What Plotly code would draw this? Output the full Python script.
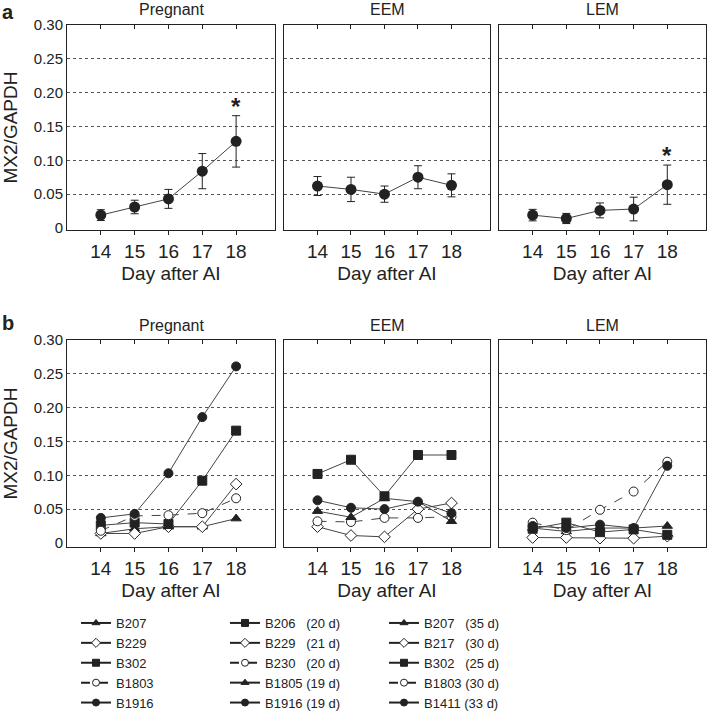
import plotly.graph_objects as go

# ---------------- data ----------------
days = [14, 15, 16, 17, 18]
panel_titles = ["Pregnant", "EEM", "LEM"]
y_tickvals = [0, 0.05, 0.10, 0.15, 0.20, 0.25, 0.30]
y_ticktext = ["0", "0.05", "0.10", "0.15", "0.20", "0.25", "0.30"]

# panel a: means and error (SEM)
a_preg_mean = [0.019, 0.031, 0.043, 0.084, 0.128]
a_preg_err = [0.008, 0.010, 0.014, 0.026, 0.038]
a_eem_mean = [0.062, 0.057, 0.050, 0.075, 0.063]
a_eem_err = [0.014, 0.018, 0.012, 0.017, 0.017]
a_lem_mean = [0.019, 0.014, 0.026, 0.028, 0.064]
a_lem_err = [0.0085, 0.0075, 0.011, 0.0175, 0.029]
a_star = [False, False, False, False, True]

# panel b: individual animals
preg_names = ["B207", "B229", "B302", "B1803", "B1916"]
preg_vals = [
    [0.014, 0.021, 0.024, 0.024, 0.036],
    [0.014, 0.014, 0.024, 0.024, 0.087],
    [0.026, 0.030, 0.028, 0.092, 0.166],
    [0.018, 0.040, 0.041, 0.044, 0.066],
    [0.037, 0.043, 0.103, 0.186, 0.261],
]
eem_names = ["B206", "B229", "B230", "B1805", "B1916"]
eem_days = ["(20 d)", "(21 d)", "(20 d)", "(19 d)", "(19 d)"]
eem_vals = [
    [0.102, 0.123, 0.069, 0.130, 0.130],
    [0.024, 0.011, 0.009, 0.050, 0.059],
    [0.032, 0.031, 0.037, 0.037, 0.039],
    [0.047, 0.038, 0.066, 0.061, 0.032],
    [0.063, 0.052, 0.050, 0.061, 0.044],
]
lem_names = ["B207", "B217", "B302", "B1803", "B1411"]
lem_days = ["(35 d)", "(30 d)", "(25 d)", "(30 d)", "(33 d)"]
lem_vals = [
    [0.022, 0.017, 0.022, 0.022, 0.025],
    [0.008, 0.008, 0.007, 0.007, 0.010],
    [0.021, 0.030, 0.016, 0.020, 0.012],
    [0.030, 0.019, 0.049, 0.076, 0.120],
    [0.025, 0.022, 0.027, 0.022, 0.114],
]

# ---------------- styles ----------------
FONT = "Liberation Sans, Arial, sans-serif"
INK = "#222222"
LINE = "#444444"
styles = [  # symbol, fill, dash
    dict(symbol="triangle-up", fill=INK, dash="solid"),
    dict(symbol="diamond", fill="white", dash="solid"),
    dict(symbol="square", fill=INK, dash="solid"),
    dict(symbol="circle", fill="white", dash="dash"),
    dict(symbol="circle", fill=INK, dash="solid"),
]
eem_order_styles = [2, 1, 3, 0, 4]
lem_order_styles = [0, 1, 2, 3, 4]
preg_order_styles = [0, 1, 2, 3, 4]

W, H = 709, 718
col_px = [(67, 275), (284, 490), (499, 706)]
row_px = [(25, 230), (340, 547)]
xdom = [[a / W, b / W] for a, b in col_px]
ydom = [[1 - b / H, 1 - a / H] for a, b in row_px]

fig = go.Figure()
layout = dict(
    width=W, height=H, margin=dict(l=0, r=0, t=0, b=0, autoexpand=False),
    paper_bgcolor="white", plot_bgcolor="white",
    font=dict(family=FONT, color=INK), showlegend=True,
)

yranges = [[-0.003, 0.30], [-0.006, 0.30]]
ax = 0
axis_ids = {}
for r in range(2):
    for c in range(3):
        ax += 1
        axis_ids[(r, c)] = ax
        xs = "" if ax == 1 else str(ax)
        layout["xaxis" + xs] = dict(
            domain=xdom[c], anchor="y" + xs, range=[13.0, 19.15], automargin=False,
            tickvals=days, ticktext=[str(d) for d in days],
            ticks="outside", ticklen=4, tickcolor=INK,
            showline=True, linecolor=INK, linewidth=1, mirror=True,
            showgrid=False, zeroline=False,
            tickfont=dict(size=19, family=FONT, color=INK),
            title=dict(text="Day after AI", font=dict(size=19, family=FONT, color=INK), standoff=5),
        )
        layout["yaxis" + xs] = dict(
            domain=ydom[r], anchor="x" + xs, range=yranges[r], automargin=False,
            tickvals=y_tickvals, ticktext=y_ticktext, showticklabels=(c == 0),
            ticks="", showline=True, linecolor=INK, linewidth=1, mirror=True,
            showgrid=False, zeroline=False,
            minor=dict(tickvals=[0.05, 0.10, 0.15, 0.20, 0.25], showgrid=True,
                       gridcolor="#555555", griddash="dot", gridwidth=1, ticks=""),
            tickfont=dict(size=15, family=FONT, color=INK),
        )
        if c == 0:
            layout["yaxis" + xs]["title"] = dict(text="MX2/GAPDH", font=dict(size=19, family=FONT, color=INK), standoff=11)

# top inside ticks via overlay axes
for r in range(2):
    for c in range(3):
        base = axis_ids[(r, c)]
        bs = "" if base == 1 else str(base)
        k = 6 + base
        layout["xaxis" + str(k)] = dict(
            overlaying="x" + bs, anchor="y" + bs, side="top", range=[13.0, 19.15], automargin=False,
            tickvals=days, ticks="inside", ticklen=4, tickcolor=INK,
            showticklabels=False, showgrid=False, zeroline=False, showline=False,
        )
        fig.add_trace(go.Scatter(x=[None], y=[None], xaxis="x" + str(k), yaxis="y" + bs,
                                 showlegend=False, hoverinfo="skip"))

def axref(r, c):
    n = axis_ids[(r, c)]
    s = "" if n == 1 else str(n)
    return "x" + s, "y" + s

# ---------------- panel a ----------------
a_means = [a_preg_mean, a_eem_mean, a_lem_mean]
a_errs = [a_preg_err, a_eem_err, a_lem_err]
a_stars = [True, False, True]
annotations = []
for c in range(3):
    xa, ya = axref(0, c)
    fig.add_trace(go.Scatter(
        x=days, y=a_means[c], xaxis=xa, yaxis=ya, mode="lines+markers",
        line=dict(color=LINE, width=1),
        marker=dict(symbol="circle", size=11, color=INK),
        error_y=dict(type="data", array=a_errs[c], visible=True, color=INK, thickness=1, width=4),
        showlegend=False,
    ))
    if a_stars[c]:
        for i, d in enumerate(days):
            if a_star[i]:
                annotations.append(dict(
                    x=d, y=a_means[c][i] + a_errs[c][i], xref=xa, yref=ya,
                    text="<b>*</b>", showarrow=False, yanchor="bottom", yshift=-6,
                    font=dict(size=24, family=FONT, color=INK)))

# ---------------- panel b ----------------
b_sets = [
    (preg_names, None, preg_vals, preg_order_styles, "legend"),
    (eem_names, eem_days, eem_vals, eem_order_styles, "legend2"),
    (lem_names, lem_days, lem_vals, lem_order_styles, "legend3"),
]
for c, (names, dlabels, vals, order, leg) in enumerate(b_sets):
    xa, ya = axref(1, c)
    for i, name in enumerate(names):
        st = styles[order[i]]
        fig.add_trace(go.Scatter(
            x=days, y=vals[i], xaxis=xa, yaxis=ya, mode="lines+markers",
            line=dict(color=LINE, width=1, dash=st["dash"]),
            marker=dict(symbol=st["symbol"], size=9, color=st["fill"],
                        line=dict(color=INK, width=1)),
            showlegend=False, name=name,
        ))
    for i, name in enumerate(names):
        st = styles[order[i]]
        if dlabels is None:
            label = name
        else:
            pad = "\u00a0" * (3 if len(name) == 4 else 1)
            label = name + pad + dlabels[i]
        fig.add_trace(go.Scatter(
            x=[None], y=[None], xaxis=xa, yaxis=ya, mode="lines+markers",
            line=dict(color=INK, width=2, dash=st["dash"]),
            marker=dict(symbol=st["symbol"], size=7, color=st["fill"],
                        line=dict(color=INK, width=1)),
            name=label, legend=leg, showlegend=True,
        ))

leg_common = dict(yanchor="top", xanchor="left", y=1 - 608 / H,
                  font=dict(size=13, family=FONT, color=INK),
                  bgcolor="rgba(0,0,0,0)", borderwidth=0, tracegroupgap=0,
                  itemclick=False, itemdoubleclick=False)
layout["legend"] = dict(leg_common, x=76 / W)
layout["legend2"] = dict(leg_common, x=225 / W)
layout["legend3"] = dict(leg_common, x=384 / W)

# titles
title_y_px = [9, 325]
for r in range(2):
    for c in range(3):
        annotations.append(dict(
            x=(xdom[c][0] + xdom[c][1]) / 2, y=1 - title_y_px[r] / H, xref="paper", yref="paper",
            text=panel_titles[c], showarrow=False, xanchor="center", yanchor="middle",
            font=dict(size=16, family=FONT, color=INK)))
for lab, ypx in [("a", 0), ("b", 311)]:
    annotations.append(dict(
        x=1 / W, y=1 - ypx / H, xref="paper", yref="paper", text="<b>" + lab + "</b>",
        showarrow=False, xanchor="left", yanchor="top", borderpad=0,
        font=dict(size=20, family=FONT, color=INK)))

layout["annotations"] = annotations
fig.update_layout(**layout)
fig.write_html("out.html", config={"displayModeBar": False},
               post_script="document.body.style.margin='0';document.body.style.padding='0';")
